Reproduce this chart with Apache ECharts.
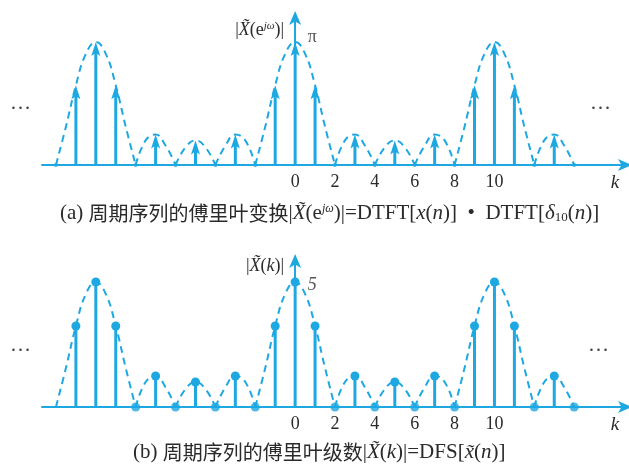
<!DOCTYPE html>
<html>
<head>
<meta charset="utf-8">
<script src="https://cdn.jsdelivr.net/npm/echarts@6/dist/echarts.min.js"></script>
<style>
  html, body { margin: 0; padding: 0; background: #fff; }
  #main { width: 629px; height: 468px; }
</style>
</head>
<body>
<div id="main"></div>
<script>
// 周期序列 x~(n)，N=10：(a) DTFT 冲激串，(b) DFS 谱线

var tickLabels = [0, 2, 4, 6, 8, 10];
// 非零谱线的 k 与幅度 |X~(k)|（峰值 5，上图对应 π）
var stemK   = [-11, -10, -9, -7, -5, -3, -1, 0, 1, 3, 5, 7, 9, 10, 11, 13];
var stemMag = [3.24, 5, 3.24, 1.24, 1, 1.24, 3.24, 5, 3.24, 1.24, 1, 1.24, 3.24, 5, 3.24, 1.24];
// 零点
var zeroK    = [-8, -6, -4, -2, 2, 4, 6, 8, 12, 14];
var topZeroK = [-12, -8, -6, -4, -2, 2, 4, 6, 8, 12, 14];
// 虚线包络，每个瓣一段
var lobeMain  = [0, 1.56, 3.24, 4.52, 5, 4.52, 3.24, 1.56, 0];
var lobeA     = [0, 1.0, 1.24, 0.79, 0];   // 2~4 型
var lobeB     = [0, 0.72, 1, 0.72, 0];     // 4~6 型
var lobeC     = [0, 0.79, 1.24, 1.0, 0];   // 6~8 型
var lobeStart = [-12, -8, -6, -4, -2, 2, 4, 6, 8, 12];
var lobeShape = [lobeMain, lobeA, lobeB, lobeC, lobeMain, lobeA, lobeB, lobeC, lobeMain, lobeA];

var color = '#1ea8e2';
var textColor = '#2a2a2a';
var serif = "'Liberation Serif', 'DejaVu Serif', serif";
var cjk = "'Noto Sans CJK SC', sans-serif";

function buildEnvelope() {
    var out = [];
    for (var i = 0; i < lobeStart.length; i++) {
        if (i > 0) out.push('-');
        for (var j = 0; j < lobeShape[i].length; j++) {
            out.push([lobeStart[i] + j * 0.5, lobeShape[i][j]]);
        }
    }
    return out;
}
var envelope = buildEnvelope();
var stems = stemK.map(function (k, i) { return [k, stemMag[i]]; });

function arrowStem(params, api) {
    var b = api.coord([api.value(0), 0]);
    var t = api.coord([api.value(0), api.value(1)]);
    return {
        type: 'group',
        children: [
            { type: 'line', shape: { x1: b[0], y1: b[1], x2: t[0], y2: t[1] + 8 },
              style: { stroke: color, lineWidth: 3 } },
            { type: 'polygon', shape: { points: [[t[0], t[1]], [t[0] - 4.5, t[1] + 14], [t[0], t[1] + 11], [t[0] + 4.5, t[1] + 14]] },
              style: { fill: color } }
        ]
    };
}
function dotStem(params, api) {
    var b = api.coord([api.value(0), 0]);
    var t = api.coord([api.value(0), api.value(1)]);
    return {
        type: 'group',
        children: [
            { type: 'line', shape: { x1: b[0], y1: b[1], x2: t[0], y2: t[1] },
              style: { stroke: color, lineWidth: 3 } },
            { type: 'circle', shape: { cx: t[0], cy: t[1], r: 4.5 }, style: { fill: color } }
        ]
    };
}

function xAxisOf(idx) {
    return {
        type: 'value', gridIndex: idx, min: -12.7, max: 16.7,
        name: 'k', nameLocation: 'end', nameGap: -13,
        nameTextStyle: { fontFamily: serif, fontStyle: 'italic', fontSize: 19, color: textColor,
                         align: 'center', verticalAlign: 'top', padding: [8, 0, 0, 0] },
        axisLine: { onZero: true, symbol: ['none', 'arrow'], symbolSize: [9, 14], symbolOffset: [0, 4],
                    lineStyle: { color: color, width: 2 } },
        axisTick: { show: false },
        splitLine: { show: false },
        axisLabel: { customValues: tickLabels, color: textColor, fontFamily: serif, fontSize: 18, margin: 8 }
    };
}
function yAxisOf(idx, max, nameText, gap) {
    return {
        type: 'value', gridIndex: idx, min: 0, max: max,
        name: nameText, nameLocation: 'end', nameGap: gap,
        nameTextStyle: {
            align: 'right', verticalAlign: 'middle', padding: [0, 11, 0, 0],
            rich: {
                n: { fontFamily: serif, fontSize: 18, color: textColor },
                i: { fontFamily: serif, fontSize: 18, fontStyle: 'italic', color: textColor },
                s: { fontFamily: serif, fontSize: 11, fontStyle: 'italic', color: textColor, verticalAlign: 'top', padding: [0, 0, 7, 0] }
            }
        },
        axisLine: { onZero: true, symbol: ['none', 'arrow'], symbolSize: [9, 14], symbolOffset: [0, 4],
                    lineStyle: { color: color, width: 2 } },
        axisTick: { show: false },
        splitLine: { show: false },
        axisLabel: { show: false }
    };
}

var captionRich = {
    c: { fontFamily: cjk, fontSize: 20, fontWeight: 'normal', color: textColor },
    r: { fontFamily: serif, fontSize: 21, fontWeight: 'normal', color: textColor },
    i: { fontFamily: serif, fontSize: 21, fontStyle: 'italic', fontWeight: 'normal', color: textColor },
    s: { fontFamily: serif, fontSize: 12, fontStyle: 'italic', fontWeight: 'normal', color: textColor, verticalAlign: 'top', padding: [0, 0, 8, 0] },
    b: { fontFamily: serif, fontSize: 13, fontWeight: 'normal', color: textColor, verticalAlign: 'bottom', padding: [7, 0, 0, 0] }
};

var option = {
    animation: false,
    title: [
        {
            left: 60, top: 203, padding: 0,
            text: '{r|(a) }{c|周期序列的傅里叶变换}{r||}{i|X\u0303}{r|(e}{s|jω}{r|)|=DTFT[}{i|x}{r|(}{i|n}{r|)]  •  DTFT[}{i|δ}{b|10}{r|(}{i|n}{r|)]}',
            textStyle: { rich: captionRich }
        },
        {
            left: 133, top: 442, padding: 0,
            text: '{r|(b) }{c|周期序列的傅里叶级数}{r||}{i|X\u0303}{r|(}{i|k}{r|)|=DFS[}{i|x\u0303}{r|(}{i|n}{r|)]}',
            textStyle: { rich: captionRich }
        }
    ],
    grid: [
        { left: 42, right: 1, top: 15, height: 150 },
        { left: 42, right: 1, top: 258, height: 149 }
    ],
    xAxis: [xAxisOf(0), xAxisOf(1)],
    yAxis: [
        yAxisOf(0, 6.1, '{n||}{i|X\u0303}{n|(e}{s|jω}{n|)|}', -15),
        yAxisOf(1, 5.96, '{n||}{i|X\u0303}{n|(}{i|k}{n|)|}', -8)
    ],
    graphic: [
        { type: 'text', left: 10, top: 93, style: { text: '…', font: '21px ' + serif, fill: '#444' } },
        { type: 'text', left: 590, top: 93, style: { text: '…', font: '21px ' + serif, fill: '#444' } },
        { type: 'text', left: 10, top: 335, style: { text: '…', font: '21px ' + serif, fill: '#444' } },
        { type: 'text', left: 588, top: 335, style: { text: '…', font: '21px ' + serif, fill: '#444' } }
    ],
    series: [
        // (a)
        { type: 'line', xAxisIndex: 0, yAxisIndex: 0, data: envelope, smooth: 0.45, showSymbol: false,
          lineStyle: { color: color, width: 2, type: [7, 5] }, z: 1 },
        { type: 'custom', xAxisIndex: 0, yAxisIndex: 0, data: stems, renderItem: arrowStem, z: 3 },
        { type: 'scatter', xAxisIndex: 0, yAxisIndex: 0, symbolSize: 4,
          data: topZeroK.map(function (k) { return [k, 0]; }), itemStyle: { color: color }, z: 4 },
        { type: 'scatter', xAxisIndex: 0, yAxisIndex: 0, symbolSize: 1, data: [[0, 5]],
          itemStyle: { color: 'rgba(0,0,0,0)' },
          label: { show: true, formatter: 'π', position: 'right', distance: 12, offset: [0, -5],
                   fontFamily: serif, fontSize: 18, color: textColor } },
        // (b)
        { type: 'line', xAxisIndex: 1, yAxisIndex: 1, data: envelope, smooth: 0.45, showSymbol: false,
          lineStyle: { color: color, width: 2, type: [7, 5] }, z: 1 },
        { type: 'custom', xAxisIndex: 1, yAxisIndex: 1, data: stems, renderItem: dotStem, z: 3 },
        { type: 'scatter', xAxisIndex: 1, yAxisIndex: 1, symbolSize: 9,
          data: zeroK.map(function (k) { return [k, 0]; }), itemStyle: { color: color }, z: 4 },
        { type: 'scatter', xAxisIndex: 1, yAxisIndex: 1, symbolSize: 1, data: [[0, 5]],
          itemStyle: { color: 'rgba(0,0,0,0)' },
          label: { show: true, formatter: '5', position: 'right', distance: 12, offset: [0, 3],
                   fontFamily: serif, fontSize: 18, fontStyle: 'italic', color: textColor } }
    ]
};

var myChart = echarts.init(document.getElementById('main'));
myChart.setOption(option);
</script>
</body>
</html>
